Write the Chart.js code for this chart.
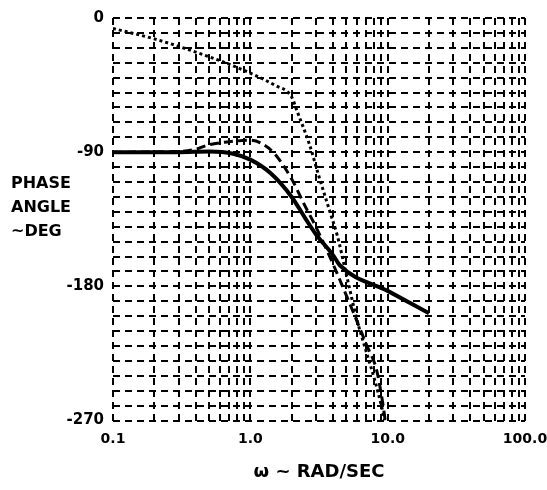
<!DOCTYPE html>
<html>
<head>
<meta charset="utf-8">
<script src="https://cdn.jsdelivr.net/npm/chart.js@4.4.1/dist/chart.umd.min.js"></script>
<style>
  html, body { margin: 0; padding: 0; background: #fff; }
  #wrap { width: 547px; height: 490px; position: relative; }
</style>
</head>
<body>
<div id="wrap"><canvas id="phaseChart" width="547" height="490"></canvas></div>
<script>
// frequency grid (rad/sec) and label values
const xGrid = [0.1, 0.2, 0.3, 0.4, 0.5, 0.6, 0.7, 0.8, 0.9,
               1, 2, 3, 4, 5, 6, 7, 8, 9,
               10, 20, 30, 40, 50, 60, 70, 80, 90, 100];
const xLabels = { 0.1: '0.1', 1: '1.0', 10: '10.0', 100: '100.0' };
const yLabels = [0, -90, -180, -270];

// dotted curve
const dottedW = [0.1, 0.2, 0.3, 0.5, 0.7, 1.0, 1.5, 2.0, 2.2, 2.7, 3.2, 3.8, 4.3, 5.0, 6.0, 7.0, 8.0, 9.0, 9.5];
const dottedPh = [-7, -14, -19, -26, -31, -37, -45, -53, -63, -85, -108, -130, -146, -172, -203, -224, -242, -260, -270];

// dashed curve
const dashedW = [0.1, 0.3, 0.4, 0.5, 0.7, 1.0, 1.2, 1.5, 2.0, 2.5, 3.0, 4.0, 5.0, 5.6, 7.0, 8.3, 9.2, 9.6];
const dashedPh = [-90, -89.5, -88, -85, -83, -82, -84, -91, -108, -126, -140, -165, -186, -197, -219, -236, -258, -270];

// solid curve
const solidW = [0.1, 0.3, 0.5, 0.75, 1.0, 1.4, 2.0, 2.5, 3.0, 4.0, 4.5, 10, 20];
const solidPh = [-90, -90, -89.5, -91, -95, -104, -120, -134, -145, -159, -166, -183, -198];

const FONT = '"DejaVu Sans", "Liberation Sans", Arial, sans-serif';

function pts(xs, ys) {
  return xs.map((x, i) => ({ x: x, y: ys[i] }));
}

// horizontal y title drawn left of the tick labels
const yTitle = {
  id: 'yTitle',
  afterDraw(chart) {
    const c = chart.ctx;
    c.save();
    c.fillStyle = '#000';
    c.font = 'bold 16px ' + FONT;
    c.textBaseline = 'middle';
    c.fillText('PHASE', 11, 184);
    c.fillText('ANGLE', 11, 208);
    c.fillText('~DEG', 11, 232);
    c.restore();
  }
};

const ctx = document.getElementById('phaseChart').getContext('2d');

new Chart(ctx, {
  type: 'line',
  data: {
    datasets: [
      {
        data: pts(dottedW, dottedPh),
        borderColor: '#000',
        borderWidth: 3,
        borderDash: [3, 3],
        pointRadius: 0,
        cubicInterpolationMode: 'monotone',
        fill: false
      },
      {
        data: pts(dashedW, dashedPh),
        borderColor: '#000',
        borderWidth: 3,
        borderDash: [9, 5],
        pointRadius: 0,
        cubicInterpolationMode: 'monotone',
        fill: false
      },
      {
        data: pts(solidW, solidPh),
        borderColor: '#000',
        borderWidth: 4,
        pointRadius: 0,
        cubicInterpolationMode: 'monotone',
        fill: false
      }
    ]
  },
  options: {
    responsive: false,
    animation: false,
    layout: { padding: { left: 0, right: 22, top: 14, bottom: 0 } },
    plugins: {
      legend: { display: false },
      tooltip: { enabled: false }
    },
    scales: {
      x: {
        type: 'logarithmic',
        min: 0.1,
        max: 100,
        afterBuildTicks(axis) {
          axis.ticks = xGrid.map(v => ({ value: v }));
        },
        afterFit(axis) {
          // let the "100.0" label run to the canvas edge
          axis.paddingRight = 0;
        },
        ticks: {
          autoSkip: false,
          maxRotation: 0,
          padding: 10,
          color: '#000',
          font: { family: FONT, size: 14, weight: 'bold' },
          callback: v => xLabels[v] || ''
        },
        grid: { color: '#000', lineWidth: 2, drawTicks: false },
        border: { display: false, dash: [7, 5] },
        title: {
          display: true,
          text: 'ω ~ RAD/SEC',
          color: '#000',
          padding: { top: 4, bottom: 7 },
          font: { family: FONT, size: 18, weight: 'bold' }
        }
      },
      y: {
        type: 'linear',
        min: -270,
        max: 0,
        afterFit(axis) { axis.width = 113; },
        ticks: {
          stepSize: 10,
          autoSkip: false,
          padding: 9,
          color: '#000',
          font: { family: FONT, size: 15, weight: 'bold' },
          callback: v => yLabels.includes(v) ? String(v) : ''
        },
        grid: { color: '#000', lineWidth: 2, drawTicks: false },
        border: { display: false, dash: [7, 5] }
      }
    }
  },
  plugins: [yTitle]
});
</script>
</body>
</html>
